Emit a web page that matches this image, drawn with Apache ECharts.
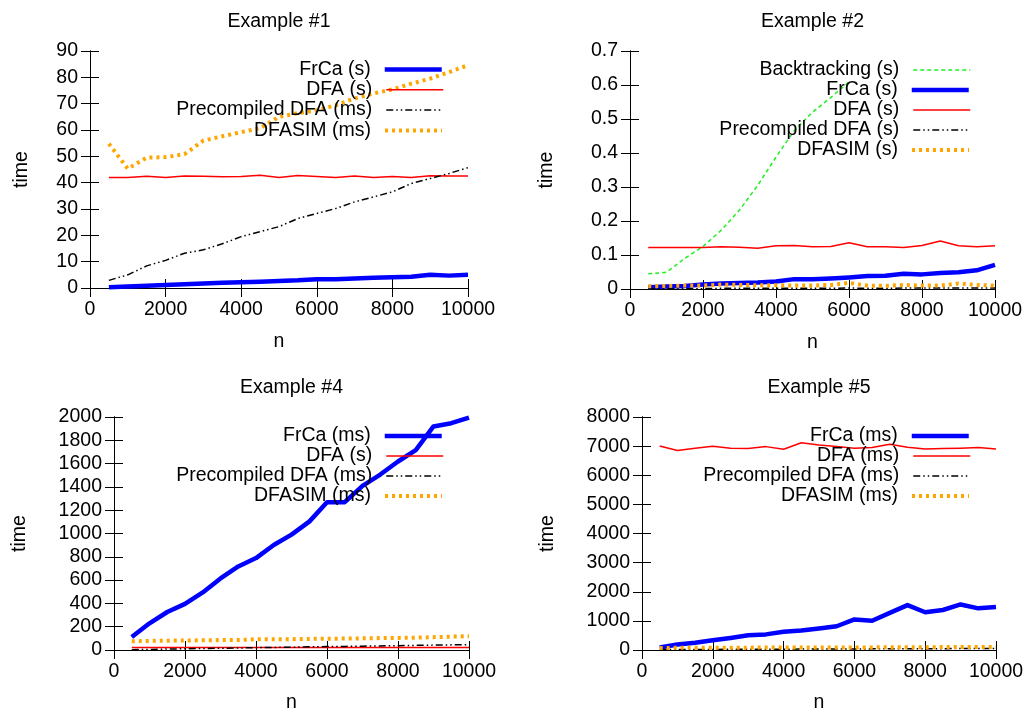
<!DOCTYPE html>
<html>
<head>
<meta charset="utf-8">
<script src="https://cdn.jsdelivr.net/npm/echarts@6/dist/echarts.min.js"></script>
<style>
html,body{margin:0;padding:0;background:#fff;}
#chart{width:1032px;height:714px;}
</style>
</head>
<body>
<div id="chart"></div>
<script>
// ---- data ----
var n = [500,1000,1500,2000,2500,3000,3500,4000,4500,5000,5500,6000,6500,7000,7500,8000,8500,9000,9500,10000];

var titles = ['Example #1','Example #2','Example #4','Example #5'];

// Example #1
var ex1FrCa = [0.3,0.6,0.9,1.1,1.4,1.7,2.0,2.2,2.4,2.7,2.9,3.3,3.3,3.6,3.9,4.1,4.3,5.0,4.7,5.0];
var ex1DFA  = [42.0,42.0,42.4,42.0,42.5,42.4,42.2,42.3,42.8,42.0,42.7,42.3,42.0,42.5,42.0,42.3,42.0,42.6,42.5,42.5];
var ex1Pre  = [2.9,5.0,8.4,10.5,13.2,14.5,16.8,19.5,21.4,23.3,26.4,28.3,30.2,32.7,34.6,36.5,39.7,41.6,43.5,45.7];
var ex1Sim  = [54.8,45.3,49.5,49.7,50.8,56.0,57.6,59.2,60.7,65.0,66.4,67.5,69.4,72.0,73.9,75.4,77.6,79.5,82.0,84.6];

// Example #2
var ex2Back = [0.045,0.049,0.090,0.125,0.173,0.232,0.305,0.388,0.466,0.520,0.563,0.609,null,null,null,null,null,null,null,null];
var ex2FrCa = [0.005,0.007,0.009,0.013,0.016,0.018,0.019,0.022,0.029,0.029,0.031,0.034,0.038,0.039,0.045,0.043,0.047,0.049,0.055,0.071];
var ex2DFA  = [0.122,0.122,0.122,0.122,0.124,0.123,0.120,0.127,0.128,0.124,0.125,0.136,0.124,0.124,0.122,0.128,0.141,0.127,0.124,0.127];
var ex2Pre  = [0.001,0.001,0.001,0.001,0.002,0.002,0.002,0.002,0.002,0.002,0.002,0.003,0.002,0.002,0.003,0.003,0.003,0.003,0.003,0.003];
var ex2Sim  = [0.008,0.009,0.010,0.010,0.013,0.012,0.011,0.011,0.010,0.010,0.012,0.018,0.010,0.009,0.012,0.010,0.010,0.016,0.012,0.010];

// Example #4
var ex4FrCa = [112,229,326,396,494,614,717,789,901,990,1102,1269,1269,1409,1506,1618,1715,1919,1947,1995];
var ex4DFA  = [21,21,22,21,22,21,21,22,21,22,21,22,21,21,22,21,22,21,22,21];
var ex4Pre  = [3,5,8,11,13,15,17,20,22,24,27,29,31,33,35,37,40,42,44,46];
var ex4Sim  = [75,78,80,82,83,85,86,92,92,93,95,97,98,100,102,104,106,110,115,118];

// Example #5
var ex5FrCa = [89,190,246,335,413,503,536,626,670,737,816,1050,1006,1274,1542,1296,1374,1564,1430,1475];
var ex5DFA  = [7006,6849,6927,6994,6927,6916,6983,6894,7117,7039,6983,6927,6950,7061,6961,6905,6916,6927,6950,6905];
var ex5Pre  = [15,17,19,21,23,25,27,29,31,33,35,37,39,41,43,45,47,49,51,53];
var ex5Sim  = [70,75,75,80,80,80,85,85,85,90,90,90,90,95,95,95,100,100,100,105];

var yMax = [90, 0.7, 2000, 8000];
var yStep = [10, 0.1, 200, 1000];

// ---- styles ----
var FONT = 'Liberation Sans';
var FS = 19.5;
var styles = {
  frca: {color:'#0000ff', width:4.5, type:'solid'},
  dfa:  {color:'#ff0000', width:1.5, type:'solid'},
  pre:  {color:'#000000', width:1.5, type:[7,3,1.5,3,1.5,3]},
  sim:  {color:'#ffa500', width:4, type:[3,4]},
  back: {color:'#22ee22', width:1.5, type:[4,3]}
};

var panels = [
  {grid:{left:90, right:564, top:51, bottom:426}, yGap:58, xGap:44, legRight:588, legTop:[69.5,89.8,110.1,130.4],
   series:[['FrCa (s)','frca',ex1FrCa],['DFA (s)','dfa',ex1DFA],['Precompiled DFA (ms)','pre',ex1Pre],['DFASIM (ms)','sim',ex1Sim]]},
  {grid:{left:630, right:37, top:51, bottom:425}, yGap:73, xGap:44, legRight:61, legTop:[70,90,110,130,150],
   series:[['Backtracking (s)','back',ex2Back],['FrCa (s)','frca',ex2FrCa],['DFA (s)','dfa',ex2DFA],['Precompiled DFA (s)','pre',ex2Pre],['DFASIM (s)','sim',ex2Sim]]},
  {grid:{left:114, right:563, top:417, bottom:59}, yGap:84, xGap:43, legRight:588, legTop:[436,456,476,496],
   series:[['FrCa (ms)','frca',ex4FrCa],['DFA (s)','dfa',ex4DFA],['Precompiled DFA (ms)','pre',ex4Pre],['DFASIM (ms)','sim',ex4Sim]]},
  {grid:{left:642, right:36, top:417, bottom:59}, yGap:84, xGap:43, legRight:61, legTop:[436,456,476,496],
   series:[['FrCa (ms)','frca',ex5FrCa],['DFA (ms)','dfa',ex5DFA],['Precompiled DFA (ms)','pre',ex5Pre],['DFASIM (ms)','sim',ex5Sim]]}
];

var option = {
  backgroundColor:'#ffffff',
  animation:false,
  textStyle:{fontFamily:FONT, color:'#000'},
  title:[], grid:[], xAxis:[], yAxis:[], legend:[], series:[]
};

function plain(v){ return String(Math.round(v * 1e6) / 1e6); }

var lineAxis = {show:true, lineStyle:{color:'#000', width:1}};
var tickStyle = {show:true, inside:true, length:9, lineStyle:{color:'#000', width:1}};

panels.forEach(function(p, i){
  var g = p.grid;
  option.grid.push({left:g.left, right:g.right, top:g.top, bottom:g.bottom, containLabel:false});
  var cx = g.left + (1032 - g.left - g.right)/2;
  option.title.push({text:titles[i], left:cx, top:g.top - 39, textAlign:'center', padding:0,
    textStyle:{fontFamily:FONT, fontSize:FS, fontWeight:'normal', color:'#000', lineHeight:20}});
  var xi = option.xAxis.length, yi = option.yAxis.length;
  option.xAxis.push({type:'value', gridIndex:i, position:'bottom', min:0, max:10000, interval:2000,
    name:'n', nameLocation:'middle', nameGap:p.xGap, nameTextStyle:{fontFamily:FONT, fontSize:FS, color:'#000'},
    axisLine:lineAxis, axisTick:tickStyle, splitLine:{show:false},
    axisLabel:{fontFamily:FONT, fontSize:FS, color:'#000', margin:12, formatter:plain}});
  option.xAxis.push({type:'value', gridIndex:i, position:'top', min:0, max:10000, interval:2000,
    axisLine:lineAxis, axisTick:tickStyle, splitLine:{show:false}, axisLabel:{show:false}});
  option.yAxis.push({type:'value', gridIndex:i, position:'left', min:0, max:yMax[i], interval:yStep[i],
    name:'time', nameLocation:'middle', nameGap:p.yGap, nameTextStyle:{fontFamily:FONT, fontSize:FS, color:'#000'},
    axisLine:lineAxis, axisTick:tickStyle, splitLine:{show:false},
    axisLabel:{fontFamily:FONT, fontSize:FS, color:'#000', margin:12, formatter:plain}});
  option.yAxis.push({type:'value', gridIndex:i, position:'right', min:0, max:yMax[i], interval:yStep[i],
    axisLine:lineAxis, axisTick:tickStyle, splitLine:{show:false}, axisLabel:{show:false}});

  p.series.forEach(function(s, k){
    var st = styles[s[1]];
    var data = n.map(function(x, j){ return [x, s[2][j]]; });
    option.series.push({
      type:'line', name:s[0], xAxisIndex:xi, yAxisIndex:yi, data:data,
      symbol:'none', connectNulls:false, clip:true,
      itemStyle:{color:st.color},
      lineStyle:{color:st.color, width:st.width, type:st.type, cap:'butt', join:'round'},
      emphasis:{disabled:true}, silent:true
    });
    option.legend.push({
      data:[s[0]], orient:'vertical', right:p.legRight, top:p.legTop[k] - 10, padding:0,
      align:'right', itemWidth:57, itemHeight:20, selectedMode:false,
      itemStyle:{opacity:0},
      lineStyle:{width:'inherit', type:'inherit'},
      textStyle:{fontFamily:FONT, fontSize:FS, color:'#000', lineHeight:20, padding:[0,9,0,0]}
    });
  });
});

var chart = echarts.init(document.getElementById('chart'), null, {renderer:'canvas'});
chart.setOption(option);
</script>
</body>
</html>
